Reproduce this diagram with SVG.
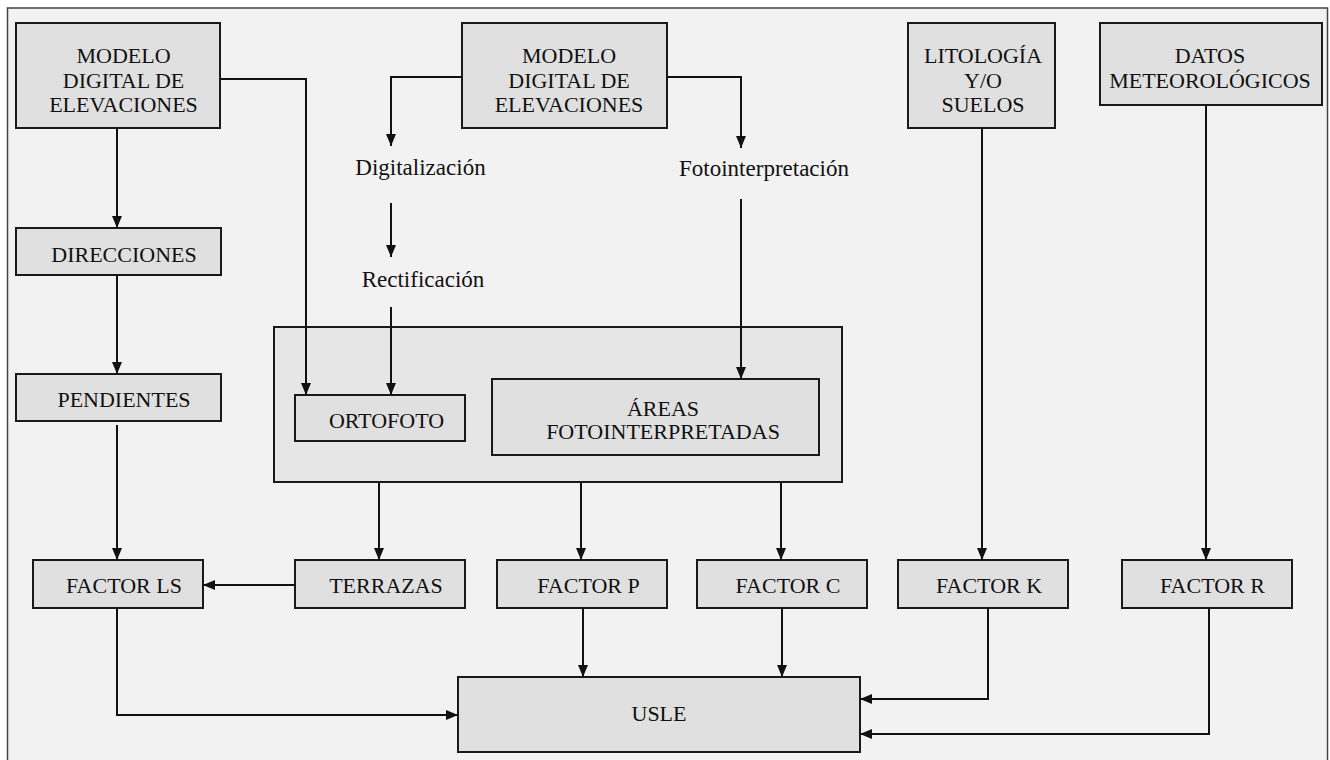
<svg xmlns="http://www.w3.org/2000/svg" width="1330" height="760" viewBox="0 0 1330 760">
<style>
.bx{fill:#e0e0e0;stroke:#1a1a1a;stroke-width:2}
.ct{fill:#e6e6e6;stroke:#1a1a1a;stroke-width:2}
.t{font-family:"Liberation Serif","Times New Roman",serif;font-size:22px;fill:#111;text-anchor:middle}
.lb{font-family:"Liberation Serif","Times New Roman",serif;font-size:23px;fill:#111;text-anchor:middle}
.c{fill:none;stroke:#111;stroke-width:2}
.a{marker-end:url(#ah)}
</style>
<defs>
<marker id="ah" viewBox="0 0 12 10" refX="12" refY="5" markerWidth="12" markerHeight="10" markerUnits="userSpaceOnUse" orient="auto">
<path d="M0,0 L12,5 L0,10 z" fill="#111"/>
</marker>
</defs>
<rect x="7.5" y="8" width="1320" height="760" fill="#f2f2f2" stroke="#444" stroke-width="1.5"/>
<g id="container"><rect class="ct" x="274" y="327" width="568" height="155"/></g>
<g id="mde1"><rect class="bx" x="16" y="23" width="204" height="105"/>
<text class="t" x="123.5" y="63">MODELO</text><text class="t" x="123.5" y="88">DIGITAL DE</text><text class="t" x="123.5" y="112">ELEVACIONES</text></g>
<g id="mde2"><rect class="bx" x="462" y="23" width="205" height="105"/>
<text class="t" x="569" y="63">MODELO</text><text class="t" x="569" y="88">DIGITAL DE</text><text class="t" x="569" y="112">ELEVACIONES</text></g>
<g id="litologia"><rect class="bx" x="908" y="23" width="147" height="105"/>
<text class="t" x="983" y="63">LITOLOGÍA</text><text class="t" x="983" y="88">Y/O</text><text class="t" x="983" y="112">SUELOS</text></g>
<g id="datos"><rect class="bx" x="1100" y="23" width="222" height="82"/>
<text class="t" x="1210" y="63">DATOS</text><text class="t" x="1210" y="88">METEOROLÓGICOS</text></g>
<g id="direcciones"><rect class="bx" x="16" y="228" width="205" height="47"/><text class="t" x="124" y="262">DIRECCIONES</text></g>
<g id="pendientes"><rect class="bx" x="16" y="374" width="205" height="47"/><text class="t" x="124" y="407">PENDIENTES</text></g>
<g id="digitalizacion"><text class="lb" x="420.5" y="175">Digitalización</text></g>
<g id="fotointerpretacion"><text class="lb" x="764" y="176">Fotointerpretación</text></g>
<g id="rectificacion"><text class="lb" x="423" y="287">Rectificación</text></g>
<g id="ortofoto"><rect class="bx" x="295" y="395" width="170" height="46"/><text class="t" x="386.5" y="428">ORTOFOTO</text></g>
<g id="areas"><rect class="bx" x="492" y="379" width="327" height="76"/>
<text class="t" x="663" y="416">ÁREAS</text><text class="t" x="663" y="439">FOTOINTERPRETADAS</text></g>
<g id="factorls"><rect class="bx" x="33" y="560" width="170" height="48"/><text class="t" x="124" y="593">FACTOR LS</text></g>
<g id="terrazas"><rect class="bx" x="295" y="560" width="170" height="48"/><text class="t" x="386" y="593">TERRAZAS</text></g>
<g id="factorp"><rect class="bx" x="497" y="560" width="170" height="48"/><text class="t" x="588.5" y="593">FACTOR P</text></g>
<g id="factorc"><rect class="bx" x="697" y="560" width="170" height="48"/><text class="t" x="788" y="593">FACTOR C</text></g>
<g id="factork"><rect class="bx" x="898" y="560" width="170" height="48"/><text class="t" x="989" y="593">FACTOR K</text></g>
<g id="factorr"><rect class="bx" x="1122" y="560" width="170" height="48"/><text class="t" x="1212.5" y="593">FACTOR R</text></g>
<g id="usle"><rect class="bx" x="458" y="677" width="402" height="75"/><text class="t" x="659" y="721">USLE</text></g>
<g id="connectors">
<path class="c a" d="M117,128 V228"/>
<path class="c a" d="M117,275 V374"/>
<path class="c a" d="M117,425 V560"/>
<path class="c a" d="M220,79 H306 V395"/>
<path class="c a" d="M462,77 H391 V146"/>
<path class="c a" d="M667,77 H741 V148"/>
<path class="c a" d="M391,203 V257"/>
<path class="c a" d="M391,307 V395"/>
<path class="c a" d="M741,199 V379"/>
<path class="c a" d="M379,482 V560"/>
<path class="c a" d="M581,482 V560"/>
<path class="c a" d="M781,482 V560"/>
<path class="c a" d="M982,128 V560"/>
<path class="c a" d="M1206,105 V560"/>
<path class="c a" d="M295,585 H203"/>
<path class="c a" d="M117,608 V715 H458"/>
<path class="c a" d="M583,608 V677"/>
<path class="c a" d="M782,608 V677"/>
<path class="c a" d="M988,608 V699 H860"/>
<path class="c a" d="M1209,608 V734 H860"/>
</g>
</svg>
